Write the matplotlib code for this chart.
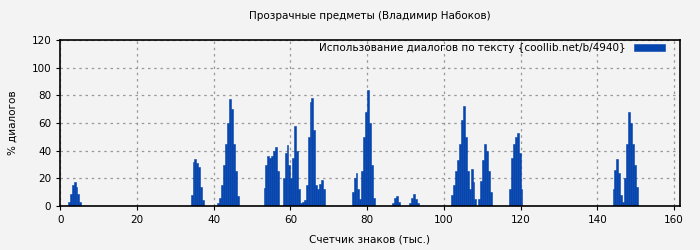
import matplotlib
matplotlib.use('Agg')
import matplotlib.pyplot as plt

# share of dialogue per text position (thousand chars)
pos = [2.0, 2.5, 3.0, 3.5, 4.0, 4.5, 5.0,
       34.0, 34.5, 35.0, 35.5, 36.0, 36.5, 37.0,
       41.0, 41.5, 42.0, 42.5, 43.0, 43.5, 44.0, 44.5, 45.0, 45.5, 46.0,
       53.0, 53.5, 54.0, 54.5, 55.0, 55.5, 56.0, 56.5,
       58.0, 58.5, 59.0, 59.5, 60.0, 60.5, 61.0, 61.5, 62.0,
       62.5, 63.0, 63.5,
       64.0, 64.5, 65.0, 65.5, 66.0, 66.5, 67.0, 67.5, 68.0, 68.5,
       76.0, 76.5, 77.0, 77.5, 78.0, 78.5, 79.0, 79.5, 80.0, 80.5, 81.0, 81.5,
       86.5, 87.0, 87.5, 88.0,
       91.0, 91.5, 92.0, 92.5, 93.0,
       102.0, 102.5, 103.0, 103.5, 104.0, 104.5, 105.0, 105.5, 106.0, 106.5, 107.0, 107.5, 108.0,
       109.0, 109.5, 110.0, 110.5, 111.0, 111.5, 112.0,
       117.0, 117.5, 118.0, 118.5, 119.0, 119.5, 120.0,
       144.0, 144.5, 145.0, 145.5, 146.0, 146.5,
       147.0, 147.5, 148.0, 148.5, 149.0, 149.5, 150.0]
pct = [3, 9, 15, 17, 14, 9, 3,
       8, 32, 34, 31, 28, 14, 4,
       2, 6, 15, 30, 45, 60, 77, 70, 45, 25, 7,
       13, 30, 36, 35, 36, 40, 43, 25,
       20, 38, 44, 30, 20, 35, 58, 40, 12,
       2, 3, 4,
       15, 50, 75, 78, 55, 15, 12, 16, 19, 12,
       10, 20, 24, 12, 5, 25, 50, 68, 84, 60, 30, 6,
       2, 6, 7, 3,
       2, 6, 9, 5, 2,
       8, 15, 25, 33, 45, 62, 72, 50, 25, 12, 27, 17, 5,
       5, 18, 33, 45, 40, 25, 10,
       12, 35, 45, 50, 53, 38, 12,
       12, 26, 34, 24, 8, 3,
       20, 45, 68, 60, 45, 30, 14]

bg = '#f3f3f3'
blue = '#0645ad'
fig = plt.figure(figsize=(7, 2.5), dpi=100, facecolor=bg)
ax = fig.add_axes([0.086, 0.176, 0.885, 0.664], facecolor=bg)

ax.bar(pos, pct, width=0.5, align='edge', color=blue, edgecolor=blue,
       linewidth=0.4,
       label='Использование диалогов по тексту {coollib.net/b/4940}')

ax.set_xlim(0, 161.5)
ax.set_ylim(0, 120)
ax.set_xticks(range(0, 161, 20))
ax.set_yticks(range(0, 121, 20))
ax.tick_params(labelsize=7.5, length=3)
ax.grid(True, linestyle=(0, (2, 3)), color='#999999', linewidth=0.9)
ax.set_axisbelow(True)
for s in ax.spines.values():
    s.set_linewidth(1.2)

ax.set_title('Прозрачные предметы (Владимир Набоков)', fontsize=7.5, pad=15)
ax.set_xlabel('Счетчик знаков (тыс.)', fontsize=7.5, labelpad=7)
ax.set_ylabel('% диалогов', fontsize=7.5, labelpad=10)
ax.legend(loc='upper right', frameon=False, fontsize=7.5, markerfirst=False,
          handlelength=3.0, handleheight=0.6, handletextpad=0.8,
          borderaxespad=1.0, bbox_to_anchor=(1.0, 1.07))

fig.savefig('out.png', dpi=100, facecolor=bg)
